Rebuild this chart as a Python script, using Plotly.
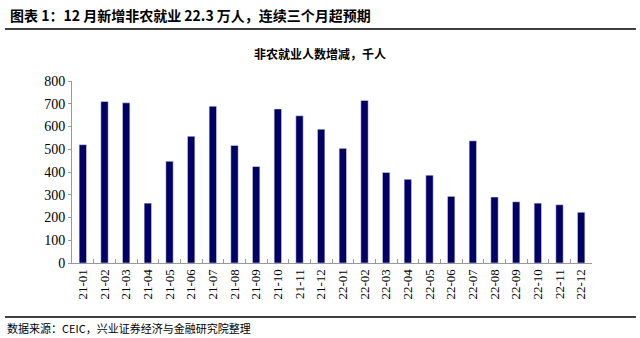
import plotly.graph_objects as go

months = ["21-01","21-02","21-03","21-04","21-05","21-06","21-07","21-08","21-09","21-10","21-11","21-12",
          "22-01","22-02","22-03","22-04","22-05","22-06","22-07","22-08","22-09","22-10","22-11","22-12"]
payrolls = [520, 710, 704, 263, 447, 557, 689, 517, 424, 677, 647, 588,
            504, 714, 398, 368, 386, 293, 537, 290, 269, 263, 256, 223]
y_ticks = [0, 100, 200, 300, 400, 500, 600, 700, 800]

L, R, T, B = 72, 48, 81, 75
W, H = 640, 338
PW, PH = W - L - R, H - T - B

def px(x):
    return (x - L) / PW

def py(y):
    return (H - B - y) / PH

fig = go.Figure(go.Bar(x=months, y=payrolls, marker_color="#000066", width=0.34))

serif = "Liberation Serif"
cjk = "Noto Sans CJK SC"

fig.update_layout(
    width=W, height=H, margin=dict(l=L, r=R, t=T, b=B),
    paper_bgcolor="white", plot_bgcolor="white", showlegend=False,
    xaxis=dict(type="category", showline=True, linecolor="#999999", linewidth=1,
               ticks="inside", ticklen=4, tickcolor="#999999", tickson="boundaries",
               tickangle=-90, tickfont=dict(family=serif, size=13, color="black"),
               showgrid=False),
    yaxis=dict(range=[0, 800], tickvals=y_ticks, showline=True, linecolor="#999999",
               linewidth=1, ticks="outside", ticklen=3, tickcolor="#999999",
               tickfont=dict(family=serif, size=14, color="black"), showgrid=False,
               zeroline=False),
    shapes=[
        dict(type="line", xref="paper", yref="paper", x0=px(5), x1=px(636),
             y0=py(29), y1=py(29), line=dict(color="black", width=1.5)),
        dict(type="line", xref="paper", yref="paper", x0=px(5), x1=px(636),
             y0=py(317), y1=py(317), line=dict(color="black", width=1.5)),
    ],
    annotations=[
        dict(text="<b>图表 1：12 月新增非农就业 22.3 万人，连续三个月超预期</b>", xref="paper", yref="paper",
             x=px(8), y=py(15), xanchor="left", yanchor="middle", showarrow=False,
             font=dict(family=cjk, size=14, color="black")),
        dict(text="<b>非农就业人数增减，千人</b>", xref="paper", yref="paper",
             x=px(320), y=py(53), xanchor="center", yanchor="middle", showarrow=False,
             font=dict(family=cjk, size=12, color="black")),
        dict(text="数据来源：CEIC，兴业证券经济与金融研究院整理", xref="paper", yref="paper",
             x=px(5), y=py(328), xanchor="left", yanchor="middle", showarrow=False,
             font=dict(family=cjk, size=11, color="black")),
    ],
)

fig.write_html("out.html")
